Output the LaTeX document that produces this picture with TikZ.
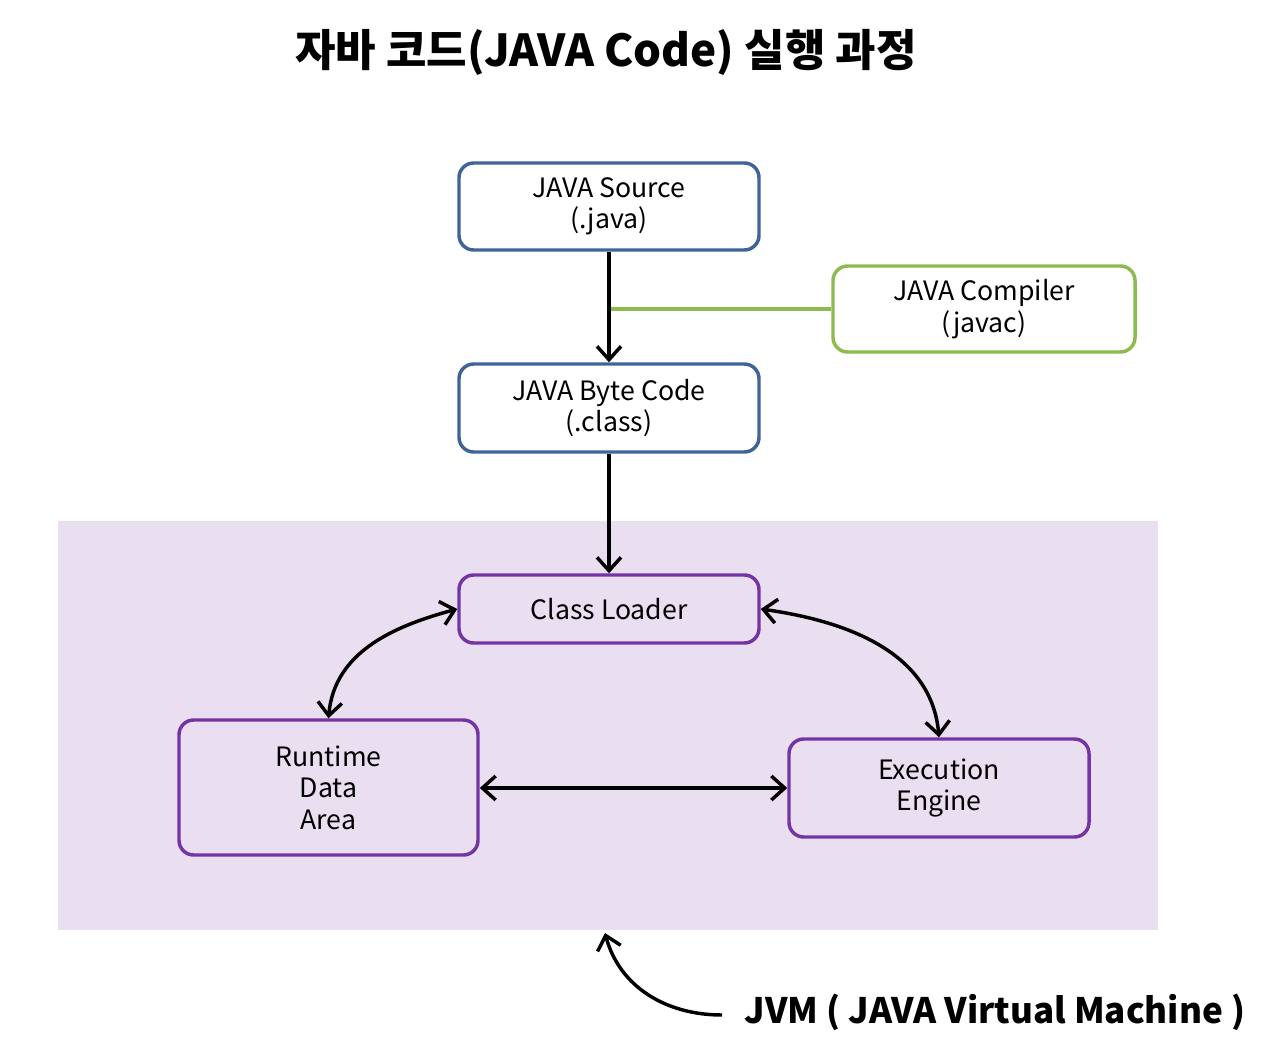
\documentclass[tikz,border=0pt]{standalone}
\usepackage{fontspec}
\setmainfont{Noto Sans CJK KR}
\usetikzlibrary{arrows.meta}
\definecolor{blueline}{HTML}{3F6597}
\definecolor{greenline}{HTML}{8DBB4E}
\definecolor{purpleline}{HTML}{7434A6}
\definecolor{jvmbg}{HTML}{EADFF0}
\tikzset{
  box/.style={draw, line width=2.6pt, rounded corners=11pt, align=center, font=\fontsize{20}{23.5}\selectfont, inner sep=0pt},
  srcbox/.style={box, draw=blueline, fill=white},
  compbox/.style={box, draw=greenline, fill=white},
  jvmbox/.style={box, draw=purpleline, fill=jvmbg},
  flow/.style={line width=2.6pt, -{Straight Barb[length=10pt,width=18pt,line width=2.6pt]}},
  both/.style={line width=2.6pt, {Straight Barb[length=10pt,width=18pt,line width=2.6pt]}-{Straight Barb[length=10pt,width=18pt,line width=2.6pt]}},
}
\begin{document}
\begin{tikzpicture}[x=0.75pt,y=0.75pt]
\useasboundingbox (0,0) rectangle (1280,-1059);
\fill[white] (0,0) rectangle (1280,-1059);
% title
\node[font=\fontsize{33}{40}\selectfont\bfseries] (title) at (606,-52) {자바 코드(JAVA Code) 실행 과정};
% JVM background
\fill[jvmbg] (58,-521) rectangle (1158,-930);
% boxes
\node[srcbox, minimum width=300*0.75pt, minimum height=87*0.75pt] (src) at (609,-206.5) {JAVA Source\\(.java)};
\node[compbox, minimum width=302*0.75pt, minimum height=86*0.75pt] (comp) at (984,-309) {JAVA Compiler\\(javac)};
\node[srcbox, minimum width=300*0.75pt, minimum height=88*0.75pt] (byte) at (609,-408) {JAVA Byte Code\\(.class)};
\node[jvmbox, minimum width=300*0.75pt, minimum height=68*0.75pt] (cl) at (609,-609) {Class Loader};
\node[jvmbox, minimum width=299*0.75pt, minimum height=135*0.75pt] (rt) at (328.5,-787.5) {\raisebox{0pt}{}Runtime\\Data\\Area};
\node[jvmbox, minimum width=300*0.75pt, minimum height=98*0.75pt] (ee) at (939,-788) {Execution\\Engine};
% compiler link
\coordinate (tap) at (609,-309);
\draw[greenline, line width=2.6pt] (comp.west) -- (tap);
% arrows
\draw[flow] (src.south) -- (byte.north);
\draw[flow] (byte.south) -- (cl.north);
\draw[both] (rt.north) to[out=85,in=195] (cl.west);
\draw[both] (cl.east) to[out=-8,in=95] (ee.north);
\draw[both] (rt.east |- 0,-788) -- (ee.west);
% JVM label
\node[font=\fontsize{26.3}{32}\selectfont\bfseries, anchor=west] (jvm) at (740,-1012) {JVM ( JAVA Virtual Machine )};
\coordinate (jvmtip) at (605,-933);
\draw[flow] (722,-1015) to[out=180,in=-75] (jvmtip);
\end{tikzpicture}
\end{document}
